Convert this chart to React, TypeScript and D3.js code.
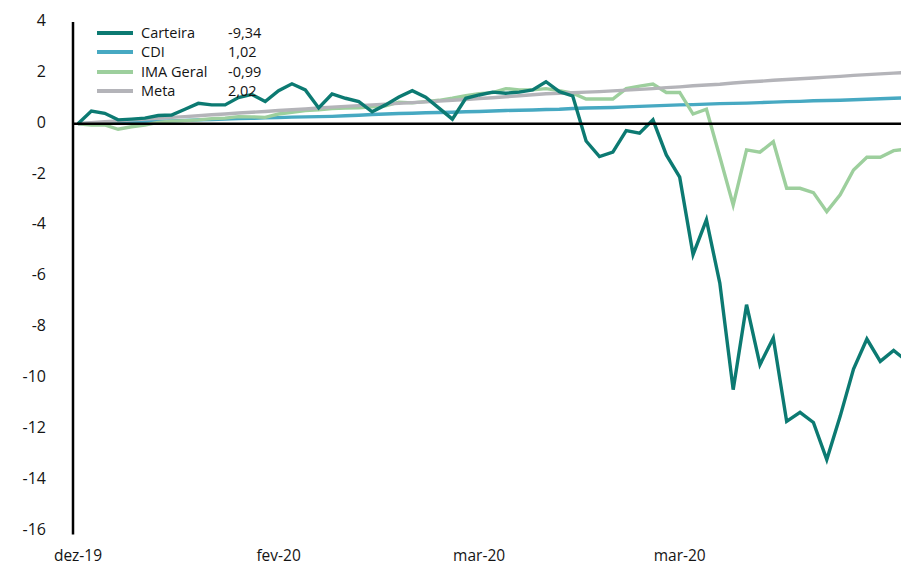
import { useRef, useEffect } from 'react'
import * as d3 from 'd3'

// values, one per business day
const carteira = [
  0, 0.5, 0.41, 0.15, 0.18, 0.22, 0.32, 0.34, 0.57, 0.8,
  0.74, 0.74, 1.03, 1.15, 0.87, 1.3, 1.57, 1.33, 0.62, 1.17,
  1.0, 0.87, 0.47, 0.74, 1.05, 1.3, 1.04, 0.61, 0.18, 1.0,
  1.13, 1.24, 1.2, 1.24, 1.33, 1.65, 1.26, 1.09, -0.68, -1.29,
  -1.12, -0.27, -0.37, 0.15, -1.23, -2.1, -5.15, -3.78, -6.27, -10.46,
  -7.12, -9.48, -8.43, -11.71, -11.35, -11.75, -13.21, -11.51, -9.65, -8.47,
  -9.35, -8.92, -9.34,
]

const cdi = [
  0, 0.02, 0.03, 0.05, 0.06, 0.08, 0.1, 0.11, 0.13, 0.15,
  0.16, 0.18, 0.2, 0.21, 0.23, 0.24, 0.26, 0.27, 0.28, 0.29,
  0.31, 0.33, 0.36, 0.38, 0.4, 0.41, 0.43, 0.44, 0.45, 0.47,
  0.48, 0.5, 0.52, 0.53, 0.54, 0.56, 0.57, 0.6, 0.62, 0.63,
  0.64, 0.66, 0.68, 0.7, 0.72, 0.74, 0.75, 0.77, 0.79, 0.8,
  0.81, 0.83, 0.85, 0.87, 0.88, 0.9, 0.91, 0.92, 0.94, 0.96,
  0.98, 1.0, 1.02,
]

const imaGeral = [
  0, -0.05, -0.05, -0.22, -0.12, -0.05, 0.05, 0.1, 0.12, 0.15,
  0.2, 0.22, 0.28, 0.27, 0.25, 0.38, 0.45, 0.52, 0.55, 0.6,
  0.62, 0.63, 0.66, 0.7, 0.85, 0.82, 0.87, 0.92, 1.0, 1.1,
  1.18, 1.22, 1.38, 1.33, 1.33, 1.38, 1.3, 1.2, 0.97, 0.97,
  0.97, 1.38, 1.48, 1.56, 1.23, 1.23, 0.38, 0.57, -1.3, -3.2,
  -1.03, -1.12, -0.71, -2.54, -2.54, -2.71, -3.46, -2.8, -1.82, -1.32,
  -1.32, -1.06, -0.99,
]

const meta = [
  0, 0.04, 0.08, 0.11, 0.15, 0.18, 0.21, 0.25, 0.28, 0.31,
  0.35, 0.38, 0.42, 0.45, 0.48, 0.52, 0.55, 0.58, 0.62, 0.65,
  0.68, 0.71, 0.74, 0.77, 0.8, 0.83, 0.86, 0.89, 0.92, 0.95,
  0.99, 1.02, 1.06, 1.1, 1.14, 1.18, 1.2, 1.22, 1.24, 1.26,
  1.29, 1.32, 1.35, 1.38, 1.42, 1.45, 1.49, 1.52, 1.55, 1.6,
  1.64, 1.67, 1.71, 1.74, 1.77, 1.8, 1.83, 1.86, 1.9, 1.93,
  1.96, 1.99, 2.02,
]

const xTickIndex = [0, 15, 30, 45]
const xTickLabels = ['dez-19', 'fev-20', 'mar-20', 'mar-20']
const yTicks = [4, 2, 0, -2, -4, -6, -8, -10, -12, -14, -16]

const seriesNames = ['Carteira', 'CDI', 'IMA Geral', 'Meta']
const seriesLast = ['-9,34', '1,02', '-0,99', '2,02']
const seriesData = [carteira, cdi, imaGeral, meta]
const seriesColors = ['#0c7a72', '#47a9c2', '#9dcf9d', '#b4b4b9']
// draw order: CDI, IMA Geral, Meta, Carteira on top
const drawOrder = [1, 2, 3, 0]

const WIDTH = 901
const HEIGHT = 567
const FONT = '"Open Sans", "Noto Sans", sans-serif'
const TEXT = '#141414'

export default function App() {
  const svgRef = useRef<SVGSVGElement>(null)

  useEffect(() => {
    if (!svgRef.current) return
    const svg = d3.select(svgRef.current)
    svg.selectAll('*').remove()

    const n = carteira.length
    const xScale = d3.scaleLinear().domain([0, n - 1]).range([78, 907])
    const yScale = d3.scaleLinear().domain([-16, 4]).range([530.5, 22])
    const axisX = 73

    // y tick labels
    const yAxis = svg.append('g')
      .attr('transform', `translate(${axisX - 27},0)`)
      .call(d3.axisLeft(yScale).tickValues(yTicks).tickSize(0).tickPadding(0).tickFormat(d => String(d)))
    yAxis.select('.domain').remove()
    yAxis.selectAll('text')
      .attr('fill', TEXT)
      .attr('font-family', FONT)
      .attr('font-size', '16px')
      .attr('dy', '0.22em')

    // x tick labels
    svg.append('g')
      .selectAll('text')
      .data(xTickIndex)
      .join('text')
      .attr('x', d => xScale(d))
      .attr('y', 561)
      .attr('text-anchor', 'middle')
      .attr('fill', TEXT)
      .attr('font-family', FONT)
      .attr('font-size', '15.5px')
      .text((_, i) => xTickLabels[i])

    // vertical axis line
    svg.append('line')
      .attr('x1', axisX).attr('x2', axisX)
      .attr('y1', yScale(4)).attr('y2', yScale(-16) + 4)
      .attr('stroke', '#000')
      .attr('stroke-width', 2.5)

    const line = d3.line<number>()
      .x((_, i) => xScale(i))
      .y(d => yScale(d))

    drawOrder.forEach(s => {
      svg.append('path')
        .datum(seriesData[s])
        .attr('fill', 'none')
        .attr('stroke', seriesColors[s])
        .attr('stroke-width', 3.4)
        .attr('stroke-linejoin', 'miter')
        .attr('d', line)
    })

    // zero line
    svg.append('line')
      .attr('x1', axisX).attr('x2', WIDTH)
      .attr('y1', yScale(0)).attr('y2', yScale(0))
      .attr('stroke', '#000')
      .attr('stroke-width', 2.5)

    // legend
    const legendY = [33, 52, 72, 91]
    const legend = svg.append('g')
    seriesNames.forEach((name, i) => {
      legend.append('line')
        .attr('x1', 97).attr('x2', 133)
        .attr('y1', legendY[i]).attr('y2', legendY[i])
        .attr('stroke', seriesColors[i])
        .attr('stroke-width', 4)
      legend.append('text')
        .attr('x', 141).attr('y', legendY[i])
        .attr('dy', '0.35em')
        .attr('fill', TEXT)
        .attr('font-family', FONT)
        .attr('font-size', '14.5px')
        .text(name)
      legend.append('text')
        .attr('x', 228).attr('y', legendY[i])
        .attr('dy', '0.35em')
        .attr('fill', TEXT)
        .attr('font-family', FONT)
        .attr('font-size', '14.5px')
        .text(seriesLast[i])
    })
  }, [])

  return (
    <svg
      ref={svgRef}
      width={WIDTH}
      height={HEIGHT}
      style={{ position: 'absolute', left: 0, top: 0, background: '#fff' }}
    />
  )
}
